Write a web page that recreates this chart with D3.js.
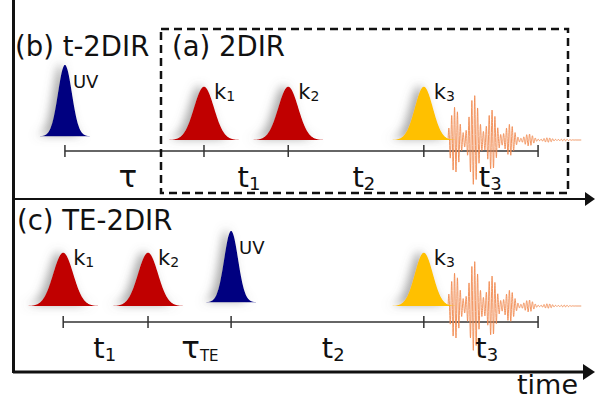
<!DOCTYPE html>
<html><head><meta charset="utf-8">
<script src="https://cdnjs.cloudflare.com/ajax/libs/d3/7.8.5/d3.min.js"></script>
<style>body{margin:0;background:#fff} svg{display:block;font-family:"DejaVu Sans",sans-serif}</style>
</head><body><svg id="c" width="595" height="400"></svg>
<script>
// ---- data (time in arbitrary units) ----
const timeDomain = [0, 100];
// Panel (b) t-2DIR / (a) 2DIR
const pulsesB_names = ["UV", "k|1", "k|2", "k|3"];
const pulsesB_times = [9.0, 33.1, 47.7, 71.2];
const pulsesB_kinds = ["uv", "ir", "ir", "probe"];
const ticksB = [9.0, 33.1, 47.7, 71.2, 91.0];
const intervalsB_labels = ["τ|", "t|1", "t|2", "t|3"];
const intervalsB_pos = [19.9, 40.9, 60.8, 82.7];
// Panel (c) TE-2DIR
const pulsesC_names = ["k|1", "k|2", "UV", "k|3"];
const pulsesC_times = [8.7, 23.4, 37.8, 71.2];
const pulsesC_kinds = ["ir", "ir", "uv", "probe"];
const ticksC = [8.7, 23.4, 37.8, 71.2, 91.0];
const intervalsC_labels = ["t|1", "τ|TE", "t|2", "t|3"];
const intervalsC_pos = [15.9, 32.4, 55.5, 82.1];
// emitted echo signal: beat packets
const echoCenters = [76.6, 79.9, 83.0, 86.1, 89.4, 92.7, 95.6];
const echoAmps = [0.44, 0.60, 0.40, 0.21, 0.08, 0.03, 0.012];
const echoRange = [75.4, 98.5];
const echoPeriod = 0.5;
const echoWidth = 0.75;
// pulse shapes per kind
const pulseKinds = ["ir", "uv", "probe"];
const pulseHeights = [0.71, 0.95, 0.71];
const pulseSigmas = [1.73, 1.2, 1.56];
const pulseLifts = [0, 0.05, 0];
const pulseColors = ["#c00000", "#000080", "#ffc000"];

// ---- drawing ----
const svg = d3.select("#c");
const x = d3.scaleLinear().domain(timeDomain).range([13, 590]);
const defs = svg.append("defs");
const f = defs.append("filter").attr("id", "glow").attr("x", "-80%").attr("y", "-50%").attr("width", "240%").attr("height", "180%");
f.append("feGaussianBlur").attr("in", "SourceAlpha").attr("stdDeviation", 5).attr("result", "b");
f.append("feOffset").attr("in", "b").attr("dx", -5).attr("dy", -1).attr("result", "o");
f.append("feFlood").attr("flood-color", "#666").attr("flood-opacity", 0.55);
f.append("feComposite").attr("in2", "o").attr("operator", "in").attr("result", "s");
const m = f.append("feMerge");
m.append("feMergeNode").attr("in", "s");
m.append("feMergeNode").attr("in", "SourceGraphic");

function kindIdx(k) { return pulseKinds.indexOf(k); }

function label(g, str, px, py, size, subSize, anchor, subDy) {
  const [main, sub] = str.split("|");
  const t = g.append("text").attr("x", px).attr("y", py).attr("text-anchor", anchor)
    .attr("font-size", size).attr("fill", "#111");
  t.append("tspan").text(main);
  if (sub) t.append("tspan").attr("dy", subDy).attr("font-size", subSize).text(sub);
}

function panel(base, lineY, labY, names, times, kinds, ticks, ivLabels, ivPos) {
  const g = svg.append("g");
  const y = d3.scaleLinear().domain([0, 1]).range([base, base - 75]);
  // timeline
  g.append("line").attr("x1", x(ticks[0])).attr("x2", x(ticks[ticks.length - 1]))
    .attr("y1", lineY).attr("y2", lineY).attr("stroke", "#333").attr("stroke-width", 1.5);
  g.selectAll(".tk").data(ticks).join("line")
    .attr("x1", d => x(d)).attr("x2", d => x(d)).attr("y1", lineY - 6).attr("y2", lineY + 6)
    .attr("stroke", "#333").attr("stroke-width", 1.5);
  // echo signal
  const pts = d3.range(echoRange[0], echoRange[1], 0.02).map(t => {
    let env = 0;
    echoCenters.forEach((c, i) => { env += echoAmps[i] * Math.exp(-((t - c) ** 2) / (2 * echoWidth ** 2)); });
    return [t, env * Math.sin(2 * Math.PI * (t - echoRange[0]) / echoPeriod)];
  });
  g.append("path").attr("d", d3.line().x(d => x(d[0])).y(d => y(d[1]))(pts))
    .attr("fill", "none").attr("stroke", "#f08a50").attr("stroke-width", 0.9);
  // pulses
  times.forEach((t0, i) => {
    const k = kindIdx(kinds[i]);
    const s = pulseSigmas[k], h = pulseHeights[k], lift = pulseLifts[k];
    const ts = d3.range(t0 - 4 * s, t0 + 4 * s + 0.001, s / 20);
    g.append("path").attr("filter", "url(#glow)")
      .attr("d", d3.area().x(d => x(d)).y0(y(lift))
        .y1(d => y(lift + h * Math.exp(-((d - t0) ** 2) / (2 * s * s))))(ts))
      .attr("fill", pulseColors[k]);
    const isUV = kinds[i] === "uv";
    label(g, names[i], x(t0) + (isUV ? 8 : 10), y(lift + h) + (isUV ? 23 : 12),
      isUV ? 18 : 21, 14, "start", 2);
  });
  // interval labels
  ivLabels.forEach((s, i) => {
    const isTau = s.startsWith("τ");
    label(g, s, x(ivPos[i]), labY, isTau ? 31 : 29, s.includes("TE") ? 15 : 18, "middle", 3);
  });
}

panel(140, 151, 187, pulsesB_names, pulsesB_times, pulsesB_kinds, ticksB, intervalsB_labels, intervalsB_pos);
panel(306, 322, 358, pulsesC_names, pulsesC_times, pulsesC_kinds, ticksC, intervalsC_labels, intervalsC_pos);

// frame / time axes
svg.append("rect").attr("x", 161).attr("y", 29).attr("width", 407).attr("height", 164)
  .attr("fill", "none").attr("stroke", "#111").attr("stroke-width", 2.5).attr("stroke-dasharray", "8,5");
svg.append("line").attr("x1", 13.5).attr("x2", 13.5).attr("y1", 0).attr("y2", 373)
  .attr("stroke", "#111").attr("stroke-width", 3);
svg.append("line").attr("x1", 13).attr("x2", 587).attr("y1", 199).attr("y2", 199)
  .attr("stroke", "#111").attr("stroke-width", 1.8);
svg.append("path").attr("d", "M585,192 L595,199 L585,206 Z").attr("fill", "#111");
svg.append("line").attr("x1", 13).attr("x2", 586).attr("y1", 372).attr("y2", 372)
  .attr("stroke", "#111").attr("stroke-width", 3);
svg.append("path").attr("d", "M583,364 L595,372 L583,380 Z").attr("fill", "#111");

// titles
const titles = ["(b) t-2DIR", "(a) 2DIR", "(c) TE-2DIR", "time"];
const tpos = [[15, 56], [172, 56], [17, 230], [517, 394]];
const tsize = [27.5, 27.5, 27.5, 27];
titles.forEach((s, i) => svg.append("text").attr("x", tpos[i][0]).attr("y", tpos[i][1])
  .attr("font-size", tsize[i]).attr("fill", "#111").text(s));
</script></body></html>
